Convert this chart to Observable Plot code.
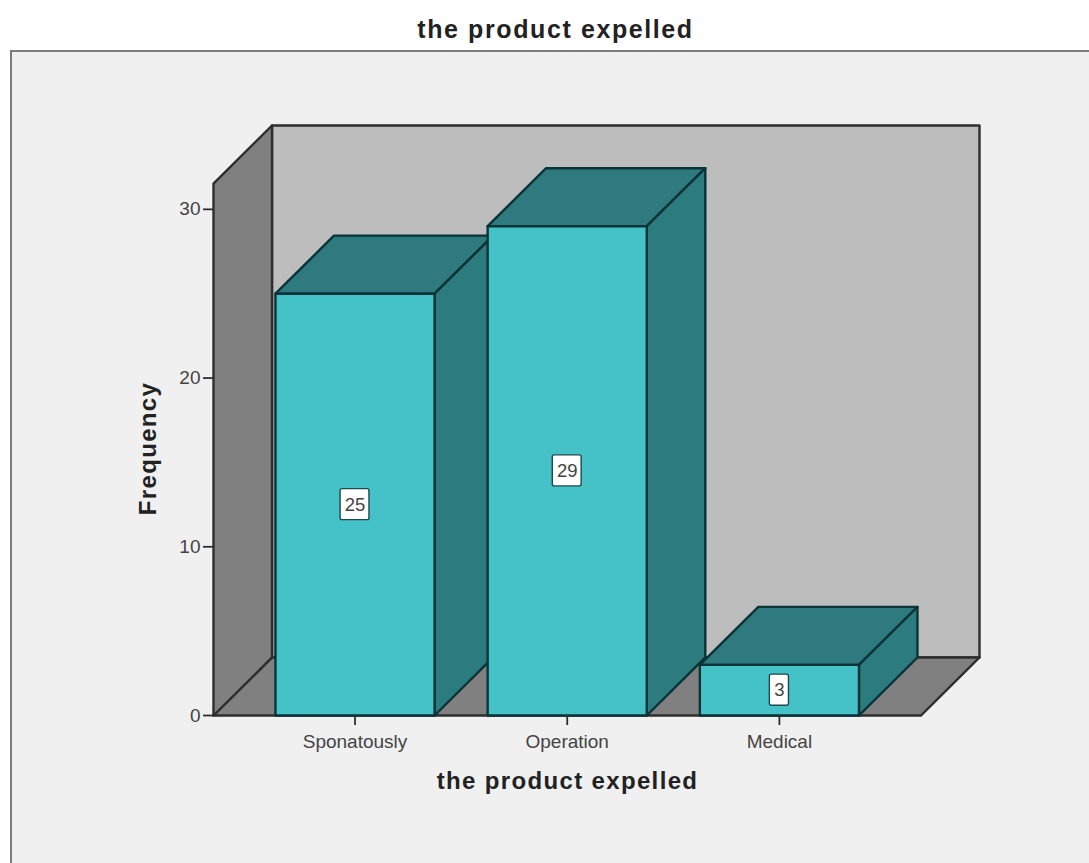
<!DOCTYPE html>
<html>
<head>
<meta charset="utf-8">
<script src="https://cdn.jsdelivr.net/npm/d3@7"></script>
<script src="https://cdn.jsdelivr.net/npm/@observablehq/plot@0.6"></script>
<style>
  html, body { margin: 0; padding: 0; background: #fff; overflow: hidden; }
  body { width: 1089px; height: 863px; position: relative; }
  #title {
    position: absolute; left: 0; top: 15px; width: 1111px; text-align: center;
    font: bold 25px "Liberation Sans", Arial, sans-serif; letter-spacing: 1.6px; color: #222;
  }
  #panel {
    position: absolute; left: 10px; top: 50px; width: 1079px; height: 813px;
    box-sizing: border-box; background: #f0f0f0;
    border-top: 2px solid #7c7c7c; border-left: 2px solid #7c7c7c;
  }
  #panel svg { display: block; background: transparent; }
  .axis-title { letter-spacing: 1.35px; }
</style>
</head>
<body>
<div id="title">the product expelled</div>
<div id="panel"></div>
<script>
// Chart content
const chartTitle = "the product expelled";
const yTitle = "Frequency";
const categories = ["Sponatously", "Operation", "Medical"];
const frequencies = [25, 29, 3];
const yTicks = [0, 10, 20, 30];

// Extents of the pseudo-3D box, in scale units
const xStart = -0.667, xEnd = 2.943;
const yEnd = 34.97;
const depthX = 0.2757, depthY = 3.44;
const halfBar = 0.375;

// Colours
const frontFill = "#45c1c8", topFill = "#2f7a7e", sideFill = "#2c7b7f", barEdge = "#0a3437";
const wallFill = "#808080", backFill = "#bdbdbd", boxEdge = "#2e2e2e";

// A closed, filled polygon through scale-space points
const face = (pts, fill, stroke) =>
  Plot.line([...pts, pts[0]], {
    x: (d) => d[0], y: (d) => d[1], fill, stroke, strokeWidth: 2.4, strokeLinejoin: "round", curve: "linear"
  });

// Back wall, floor and left wall of the box
const shell = [
  face([[xStart + depthX, depthY], [xEnd, depthY], [xEnd, yEnd], [xStart + depthX, yEnd]], backFill, boxEdge),
  face([[xStart, 0], [xEnd - depthX, 0], [xEnd, depthY], [xStart + depthX, depthY]], wallFill, boxEdge),
  face([[xStart, 0], [xStart + depthX, depthY], [xStart + depthX, yEnd], [xStart, yEnd - depthY]], wallFill, boxEdge)
];

// Each bar: top, right side, front
const bars = frequencies.flatMap((v, i) => {
  const l = i - halfBar, r = i + halfBar;
  return [
    face([[l, v], [r, v], [r + depthX, v + depthY], [l + depthX, v + depthY]], topFill, barEdge),
    face([[r, 0], [r + depthX, depthY], [r + depthX, v + depthY], [r, v]], sideFill, barEdge),
    face([[l, 0], [r, 0], [r, v], [l, v]], frontFill, barEdge)
  ];
});

// Value tags, sitting halfway up each bar
const tags = frequencies.map((v, i) => ({ i, v, half: String(v).length === 1 ? 0.045 : 0.068 }));

const chart = Plot.plot({
  width: 1077,
  height: 811,
  marginLeft: 201,
  marginRight: 110,
  marginTop: 73,
  marginBottom: 148,
  x: { type: "linear", domain: [xStart, xEnd], axis: null },
  y: { type: "linear", domain: [0, yEnd], axis: null },
  style: { fontFamily: "'Liberation Sans', Arial, sans-serif", background: "transparent", overflow: "visible" },
  marks: [
    ...shell,
    ...bars,
    Plot.rect(tags, {
      x1: (d) => d.i - d.half, x2: (d) => d.i + d.half,
      y1: (d) => d.v / 2 - 0.92, y2: (d) => d.v / 2 + 0.92,
      fill: "#ffffff", stroke: "#1d4a4d", strokeWidth: 1.4, r: 2
    }),
    Plot.text(tags, {
      x: "i", y: (d) => d.v / 2, text: (d) => String(d.v),
      fontSize: 18.5, fill: "#444"
    }),
    Plot.axisY({
      anchor: "left", ticks: yTicks, tickSize: 10, tickPadding: 3, label: null,
      fontSize: 19, color: "#444", stroke: "#2e2e2e", strokeWidth: 1.8
    }),
    Plot.axisX({
      anchor: "bottom", ticks: [0, 1, 2], tickSize: 10, tickPadding: 9, label: null,
      tickFormat: (i) => categories[i],
      fontSize: 19, color: "#444", stroke: "#2e2e2e", strokeWidth: 1.8
    }),
    Plot.text([chartTitle], {
      frameAnchor: "bottom", lineAnchor: "middle", dx: -29, dy: 66,
      fontSize: 24, fontWeight: "bold", fill: "#222", className: "axis-title"
    }),
    Plot.text([yTitle], {
      frameAnchor: "left", lineAnchor: "middle", textAnchor: "middle", rotate: -90, dx: -65, dy: 28,
      fontSize: 24, fontWeight: "bold", fill: "#222", className: "axis-title"
    })
  ]
});

document.getElementById("panel").appendChild(chart);
</script>
</body>
</html>
